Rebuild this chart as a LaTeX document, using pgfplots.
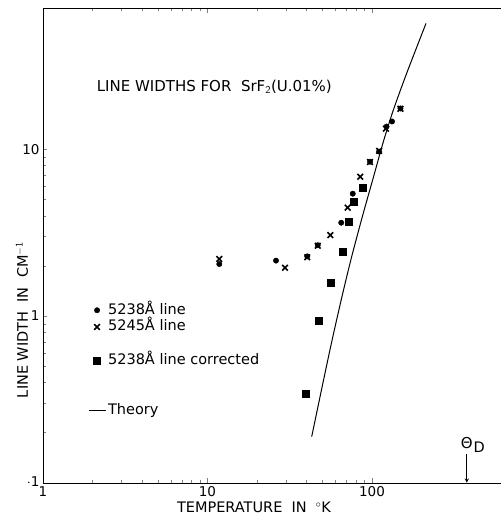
\documentclass[border=0pt]{standalone}
\usepackage{fontspec}
\setmainfont{DejaVu Sans}
\usepackage{pgfplots}
\pgfplotsset{compat=1.18}

\begin{document}
\begin{tikzpicture}
% page stops at x=457pt, so the right spine (at 470pt) falls off it as in the scan
\useasboundingbox (-43pt,-33.3pt) rectangle (457pt,482.7pt);
\begin{axis}[
  at={(0,0)}, anchor=south west,
  scale only axis,
  width=470pt, height=474.4pt,
  xmode=log, ymode=log,
  xmin=1, xmax=720, ymin=0.1, ymax=70.2,
  xtick={1,10,100}, xticklabels={1,10,100},
  ytick={0.1,1,10}, yticklabels={\raisebox{3pt}{$\cdot$1},1,10},
  /pgf/number format/assume math mode=true,
  tick label style={font=\fontsize{13.5}{16}\selectfont},
  legend cell align=left,
  legend style={draw=none, fill=none, at={(rel axis cs:0.089,0.385)}, anchor=north west,
    font=\fontsize{14.5}{17}\selectfont,
    nodes={inner sep=1pt, text height=11pt, text depth=3pt},
    row sep=0.7pt, column sep=1pt},
]
\addplot[only marks, mark=*, mark size=2.7pt, black] coordinates {
  (11.8,2.05) (26.1,2.15) (40.4,2.28) (46.8,2.66) (65,3.63) (76.4,5.42)
  (97.3,8.43) (110.5,9.7) (122.6,13.7) (132.4,14.7) (149,17.6)
};
\addlegendentry{5238Å line}
\addplot[only marks, mark=x, mark size=4pt, black, line width=1.6pt] coordinates {
  (11.8,2.2) (29.6,1.95) (40.4,2.25) (46.8,2.64) (55.8,3.06) (71.2,4.47)
  (84.8,6.85) (97.3,8.4) (110.5,9.8) (121.5,13.3) (149,17.5)
};
\addlegendentry{5245Å line}
\addlegendimage{empty legend}\addlegendentry{}
\addplot[only marks, mark=square*, mark size=3.5pt, black] coordinates {
  (39.7,0.344) (47.2,0.94) (56.1,1.58) (66.6,2.43) (72.1,3.68) (77.5,4.85) (87.8,5.9)
};
\addlegendentry{5238Å line corrected}
\addlegendimage{empty legend}\addlegendentry{}
\addlegendimage{empty legend}\addlegendentry{}
\addplot[black, line width=1pt, smooth] coordinates {
  (43,0.189) (55,0.6) (65,1.25) (75,2.24) (88,4.05) (102,6.8) (117.2,11.1)
  (134.8,17.2) (162.5,28.6) (213,57)
};
\addlegendentry{Theory}
\draw[->, line width=0.9pt, >=stealth] (axis cs:377,0.148) -- (axis cs:377,0.1);
\node[anchor=center, inner sep=0pt, font=\fontsize{15}{18}\selectfont] (th) at (axis cs:377,0.173) {Θ};
\node[anchor=west, inner sep=0.5pt, font=\fontsize{14.5}{18}\selectfont] at ([yshift=-4pt]th.east) {D};
\node[anchor=base west, font=\fontsize{15}{17}\selectfont] at (rel axis cs:0.107,0.825)
  {LINE WIDTHS FOR\ \ SrF$_{\mathsf{2}}$(U.01\%)};
\end{axis}
\node[anchor=base, font=\fontsize{14.5}{17}\selectfont] at (211pt,-30pt) {TEMPERATURE\ \ IN\ \ $^\circ$K};
\node[rotate=90, anchor=center, font=\fontsize{14.5}{17}\selectfont] at (-21pt,162.7pt) {LINE WIDTH\ \ IN\ \ CM$^{\mathsf{-1}}$};
\end{tikzpicture}
\end{document}
